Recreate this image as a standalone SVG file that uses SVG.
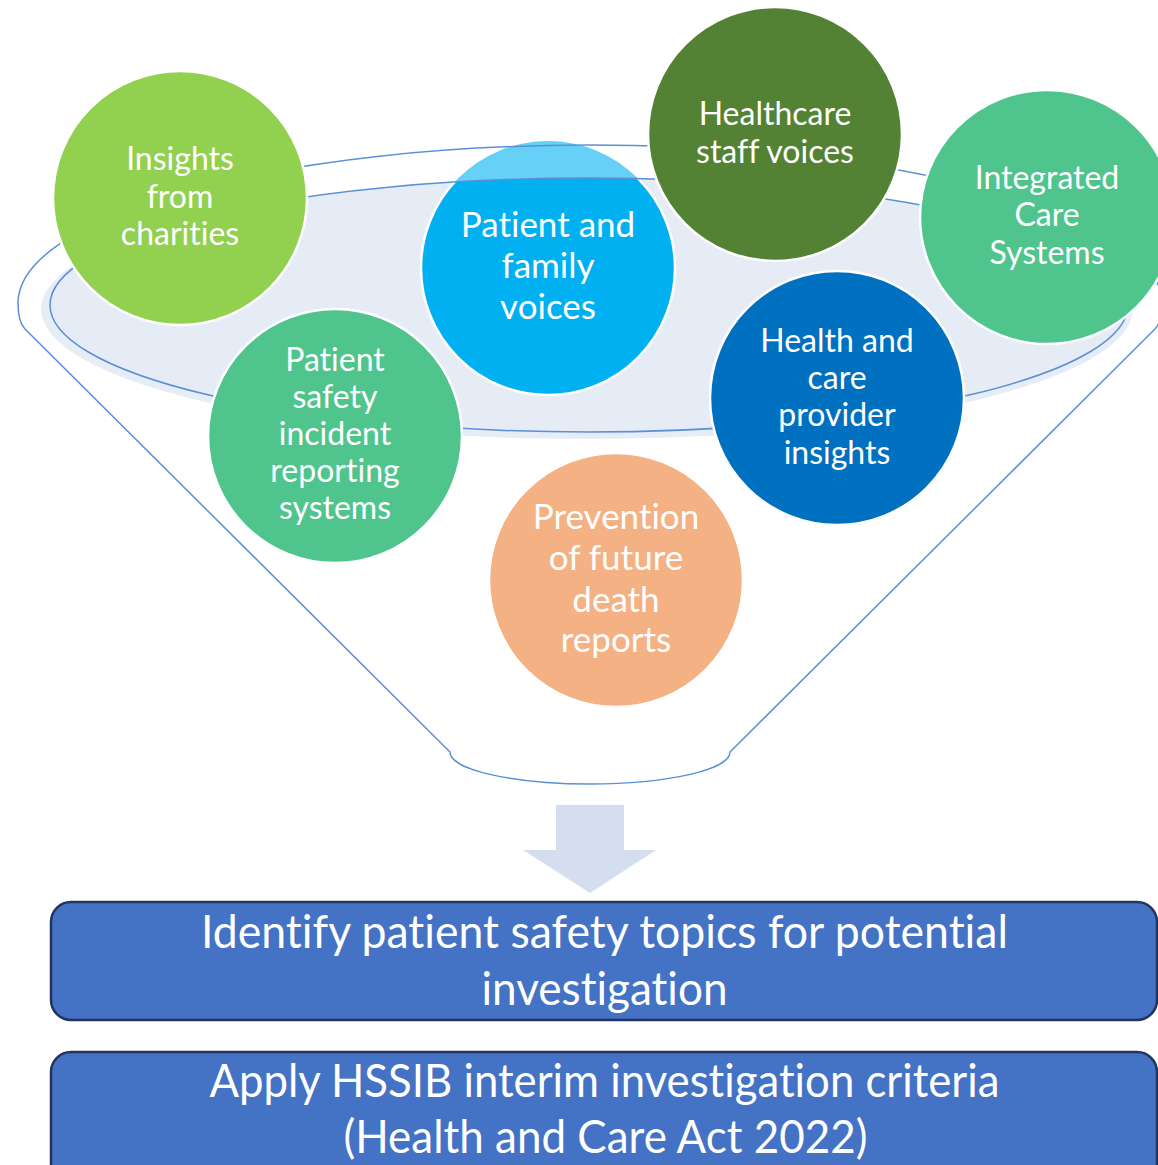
<svg xmlns="http://www.w3.org/2000/svg" width="1158" height="1165" viewBox="0 0 1158 1165">
<style>
text{font-variant-ligatures:none;font-feature-settings:"liga" 0,"dlig" 0}
.node{stroke:#FFFFFF;stroke-width:2.5}
.ct{font-family:Lato,"Open Sans","Liberation Sans",sans-serif;fill:#FFFFFF;text-anchor:middle;font-size:32px}
.ctb{font-size:35px}
.bt{font-family:Lato,"Open Sans","Liberation Sans",sans-serif;fill:#FFFFFF;text-anchor:middle;font-size:46px}
.fl{fill:none;stroke:#5B8FD6;stroke-width:1.5}
.box{fill:#4472C4;stroke:#22355E;stroke-width:2.5}
</style>
<defs>
<clipPath id="innerClip"><ellipse cx="589" cy="305" rx="539" ry="127"/></clipPath>
</defs>
<rect width="1158" height="1165" fill="#FFFFFF"/>
<g id="funnel-fill">
<ellipse cx="587" cy="309" rx="546" ry="130" fill="#E7EDF7"/>
<ellipse cx="589" cy="305" rx="539" ry="127" fill="#E6ECF6"/>
</g>
<g id="node-patient-family">
<circle cx="548" cy="268" r="127" fill="#66D0F6"/>
<circle cx="548" cy="268" r="127" fill="#00B0F0" class="node" clip-path="url(#innerClip)"/>
<text class="ct ctb" x="548" y="237">Patient and</text>
<text class="ct ctb" x="548" y="278">family</text>
<text class="ct ctb" x="548" y="319">voices</text>
</g>
<g id="funnel-lines">
<path class="fl" d="M450,752 L25,329 Q18,322 18,303 A572,158 0 0 1 1162,303 Q1162,322 1155,329 L730,752 A140,32 0 0 1 450,752 Z"/>
<ellipse class="fl" cx="589" cy="305" rx="539" ry="127"/>
</g>
<g id="node-charities">
<circle class="node" cx="180" cy="198" r="127" fill="#92D050"/>
<text class="ct" x="180" y="170">Insights</text>
<text class="ct" x="180" y="208">from</text>
<text class="ct" x="180" y="245">charities</text>
</g>
<g id="node-healthcare-staff">
<circle class="node" cx="775" cy="134" r="127" fill="#548235"/>
<text class="ct" x="775" y="125">Healthcare</text>
<text class="ct" x="775" y="163">staff voices</text>
</g>
<g id="node-integrated-care">
<circle class="node" cx="1047" cy="217" r="127" fill="#4FC58D"/>
<text class="ct" x="1047" y="189">Integrated</text>
<text class="ct" x="1047" y="226">Care</text>
<text class="ct" x="1047" y="264">Systems</text>
</g>
<g id="node-patient-safety">
<circle class="node" cx="335" cy="436" r="127" fill="#4FC58D"/>
<text class="ct" x="335" y="371">Patient</text>
<text class="ct" x="335" y="408">safety</text>
<text class="ct" x="335" y="445">incident</text>
<text class="ct" x="335" y="482">reporting</text>
<text class="ct" x="335" y="519">systems</text>
</g>
<g id="node-provider-insights">
<circle class="node" cx="837" cy="398" r="127" fill="#0070C0"/>
<text class="ct" x="837" y="352">Health and</text>
<text class="ct" x="837" y="389">care</text>
<text class="ct" x="837" y="426">provider</text>
<text class="ct" x="837" y="464">insights</text>
</g>
<g id="node-prevention">
<circle class="node" cx="616" cy="580" r="127" fill="#F4B183"/>
<text class="ct ctb" x="616" y="529">Prevention</text>
<text class="ct ctb" x="616" y="570">of future</text>
<text class="ct ctb" x="616" y="612">death</text>
<text class="ct ctb" x="616" y="652">reports</text>
</g>
<g id="connectors">
<polygon points="556,805 624,805 624,850 656,850 590,893 523,850 556,850" fill="#D4DEEF"/>
</g>
<g id="node-identify">
<rect class="box" x="51" y="902" width="1106" height="118" rx="20" ry="20"/>
<text class="bt" x="604.5" y="948" textLength="807" lengthAdjust="spacingAndGlyphs">Identify patient safety topics for potential</text>
<text class="bt" x="604.5" y="1005" textLength="246" lengthAdjust="spacingAndGlyphs">investigation</text>
</g>
<g id="node-apply">
<rect class="box" x="51" y="1052" width="1106" height="140" rx="20" ry="20"/>
<text class="bt" x="604.5" y="1097" textLength="790" lengthAdjust="spacingAndGlyphs">Apply HSSIB interim investigation criteria</text>
<text class="bt" x="605.5" y="1153" textLength="524" lengthAdjust="spacingAndGlyphs">(Health and Care Act 2022)</text>
</g>
</svg>
